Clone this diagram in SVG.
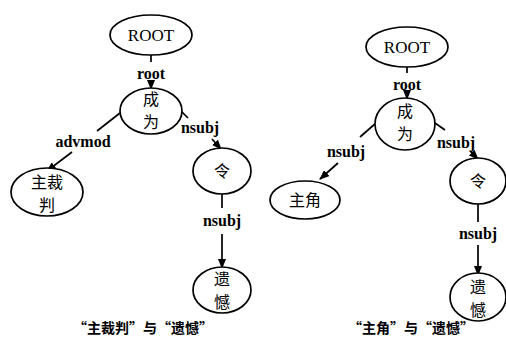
<svg xmlns="http://www.w3.org/2000/svg" width="506" height="346" viewBox="0 0 506 346">
<style>
.n{fill:#fff;stroke:#000;stroke-width:1.7}
.t{font-family:"Liberation Serif",serif;font-size:17px;fill:#000;text-anchor:middle}
.c{font-family:"Noto Sans CJK SC",sans-serif;font-size:16px;fill:#000;text-anchor:middle}
.l{font-family:"Liberation Serif",serif;font-size:16px;font-weight:bold;fill:#000;text-anchor:middle}
.cap{font-family:"Noto Sans CJK SC",sans-serif;font-size:14px;font-weight:bold;fill:#000;text-anchor:middle}
.e{stroke:#000;stroke-width:1.7;fill:none}
.a{stroke:#000;stroke-width:1.7;fill:none;marker-end:url(#ah)}
</style>
<defs>
<marker id="ah" markerUnits="userSpaceOnUse" markerWidth="10" markerHeight="8" refX="9" refY="4" orient="auto">
<path d="M0,0 L10,4 L0,8 z" fill="#000"/>
</marker>
</defs>
<rect width="506" height="346" fill="#fff"/>
<g id="connectors">
<line class="e" x1="151" y1="55" x2="151" y2="62"/>
<text class="l" x="151" y="79">root</text>
<line class="a" x1="151" y1="82" x2="151" y2="89"/>
<line class="e" x1="120" y1="113" x2="97" y2="131"/>
<text class="l" x="83" y="147">advmod</text>
<line class="a" x1="72" y1="152" x2="47" y2="171"/>
<line class="e" x1="180" y1="110" x2="188" y2="118"/>
<text class="l" x="200" y="133">nsubj</text>
<line class="a" x1="212" y1="139" x2="221" y2="149"/>
<line class="e" x1="222" y1="194" x2="222" y2="208"/>
<text class="l" x="222" y="226">nsubj</text>
<line class="a" x1="222" y1="234" x2="222" y2="268"/>
<line class="e" x1="407" y1="67" x2="407" y2="73"/>
<text class="l" x="407" y="90">root</text>
<line class="a" x1="407" y1="93" x2="407" y2="99"/>
<line class="e" x1="376" y1="123" x2="360" y2="137"/>
<text class="l" x="346" y="157">nsubj</text>
<line class="a" x1="338" y1="163" x2="320" y2="179"/>
<line class="e" x1="435" y1="123" x2="445" y2="130"/>
<text class="l" x="456" y="148">nsubj</text>
<line class="a" x1="470" y1="151" x2="478" y2="159"/>
<line class="e" x1="478" y1="203" x2="478" y2="222"/>
<text class="l" x="478" y="239">nsubj</text>
<line class="a" x1="478" y1="245" x2="478" y2="275"/>
</g>
<g id="root1"><ellipse class="n" cx="151" cy="35" rx="41" ry="20"/><text class="t" x="151" y="41">ROOT</text></g>
<g id="chengwei1"><ellipse class="n" cx="151" cy="111" rx="31" ry="23"/><text class="c" x="151" y="105">成</text><text class="c" x="151" y="128">为</text></g>
<g id="zhucaipan"><ellipse class="n" cx="47" cy="192" rx="36" ry="24"/><text class="c" x="47" y="188">主裁</text><text class="c" x="47" y="211">判</text></g>
<g id="ling1"><ellipse class="n" cx="222" cy="171" rx="29" ry="23"/><text class="c" x="222" y="177">令</text></g>
<g id="yihan1"><ellipse class="n" cx="222" cy="290" rx="29" ry="23"/><text class="c" x="222" y="285">遗</text><text class="c" x="222" y="308">憾</text></g>
<g id="root2"><ellipse class="n" cx="407" cy="47" rx="41" ry="20"/><text class="t" x="407" y="53">ROOT</text></g>
<g id="chengwei2"><ellipse class="n" cx="405" cy="124" rx="30" ry="26"/><text class="c" x="405" y="117">成</text><text class="c" x="405" y="140">为</text></g>
<g id="zhujiao"><ellipse class="n" cx="305" cy="200" rx="35" ry="19"/><text class="c" x="305" y="206">主角</text></g>
<g id="ling2"><ellipse class="n" cx="478" cy="181" rx="28" ry="23"/><text class="c" x="478" y="187">令</text></g>
<g id="yihan2"><ellipse class="n" cx="478" cy="297" rx="28" ry="24"/><text class="c" x="478" y="293">遗</text><text class="c" x="478" y="316">憾</text></g>
<text class="cap" x="143" y="333">“主裁判”与“遗憾”</text>
<text class="cap" x="411" y="333">“主角”与“遗憾”</text>
</svg>
